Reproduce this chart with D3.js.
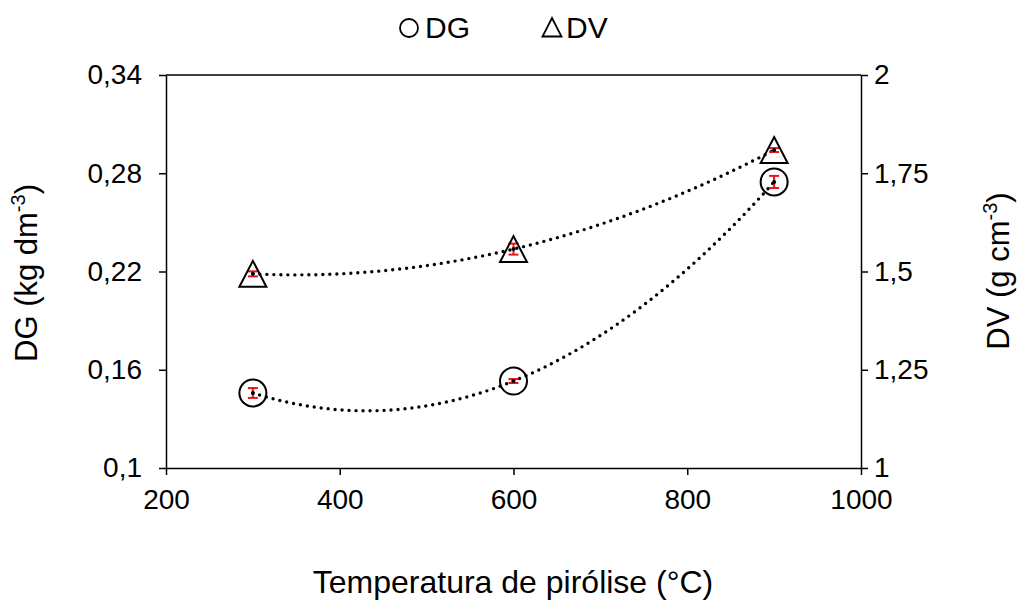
<!DOCTYPE html>
<html><head><meta charset="utf-8">
<script src="https://cdn.jsdelivr.net/npm/d3@7"></script>
<style>body{margin:0;background:#fff}svg{display:block}text{font-family:"Liberation Sans",Arial,sans-serif;fill:#000}</style>
</head><body>
<svg id="c" width="1019" height="600"></svg>
<script>
const temps = [300, 600, 900];
const dgValues = [0.1458, 0.1531, 0.2747];
const dgErrors = [0.003, 0.0012, 0.0037];
const dvValues = [1.494, 1.557, 1.809];
const dvErrors = [0.0064, 0.014, 0.005];
const xTicks = [200, 400, 600, 800, 1000];
const yLeftTicks = [0.1, 0.16, 0.22, 0.28, 0.34];
const yRightTicks = [1, 1.25, 1.5, 1.75, 2];
const fmt = d => String(d).replace('.', ',');

const svg = d3.select('#c');
const L = 166, R = 861, T = 75, B = 468;
const x = d3.scaleLinear().domain([200, 1000]).range([L, R]);
const yL = d3.scaleLinear().domain([0.1, 0.34]).range([B, T]);
const yR = d3.scaleLinear().domain([1, 2]).range([B, T]);
const TICK_FS = 28, TITLE_FS = 32, LEG_FS = 30;

svg.append('line').attr('x1', L).attr('x2', R).attr('y1', T).attr('y2', T).attr('stroke', '#000').attr('stroke-width', 1.5);

const ax = svg.append('g').attr('transform', `translate(0,${B})`)
  .call(d3.axisBottom(x).tickValues(xTicks).tickSize(7).tickSizeOuter(0).tickPadding(14).tickFormat(d => d));
const ayl = svg.append('g').attr('transform', `translate(${L},0)`)
  .call(d3.axisLeft(yL).tickValues(yLeftTicks).tickSize(7).tickSizeOuter(0).tickPadding(17).tickFormat(fmt));
const ayr = svg.append('g').attr('transform', `translate(${R},0)`)
  .call(d3.axisRight(yR).tickValues(yRightTicks).tickSize(7).tickSizeOuter(0).tickPadding(6).tickFormat(fmt));
[ax, ayl, ayr].forEach(g => {
  g.selectAll('path,line').attr('stroke', '#000').attr('stroke-width', 1.5);
  g.selectAll('text').attr('font-size', TICK_FS).attr('font-family', '"Liberation Sans",Arial,sans-serif');
});

function quad(xs, ys) {
  const [x0, x1, x2] = xs, [y0, y1, y2] = ys;
  return t => y0 * (t - x1) * (t - x2) / ((x0 - x1) * (x0 - x2)) +
              y1 * (t - x0) * (t - x2) / ((x1 - x0) * (x1 - x2)) +
              y2 * (t - x0) * (t - x1) / ((x2 - x0) * (x2 - x1));
}
const samples = d3.range(300, 900.1, 5);
function trend(vals, ys) {
  const f = quad(temps, vals);
  svg.append('path').datum(samples)
    .attr('d', d3.line().x(d => x(d)).y(d => ys(f(d))))
    .attr('fill', 'none').attr('stroke', '#000').attr('stroke-width', 3.4)
    .attr('stroke-linecap', 'round').attr('stroke-dasharray', '0 7');
}
trend(dgValues, yL);
trend(dvValues, yR);

function errbars(vals, errs, ys) {
  const g = svg.append('g').attr('stroke', '#e8141b').attr('stroke-width', 2);
  temps.forEach((t, i) => {
    const cx = x(t), a = ys(vals[i] - errs[i]), b = ys(vals[i] + errs[i]);
    g.append('line').attr('x1', cx).attr('x2', cx).attr('y1', a).attr('y2', b);
    g.append('line').attr('x1', cx - 5).attr('x2', cx + 5).attr('y1', a).attr('y2', a);
    g.append('line').attr('x1', cx - 5).attr('x2', cx + 5).attr('y1', b).attr('y2', b);
  });
}
errbars(dgValues, dgErrors, yL);
errbars(dvValues, dvErrors, yR);

temps.forEach((t, i) => {
  svg.append('circle').attr('cx', x(t)).attr('cy', yL(dgValues[i])).attr('r', 13.5)
    .attr('fill', 'none').attr('stroke', '#000').attr('stroke-width', 2);
  svg.append('circle').attr('cx', x(t)).attr('cy', yL(dgValues[i])).attr('r', 2).attr('fill', '#000');
  const cx = x(t), cy = yR(dvValues[i]);
  svg.append('path').attr('d', `M${cx},${cy - 13}L${cx + 13.5},${cy + 13}L${cx - 13.5},${cy + 13}Z`)
    .attr('fill', 'none').attr('stroke', '#000').attr('stroke-width', 2);
  svg.append('circle').attr('cx', cx).attr('cy', cy).attr('r', 2).attr('fill', '#000');
});

svg.append('circle').attr('cx', 409).attr('cy', 28).attr('r', 9).attr('fill', 'none').attr('stroke', '#000').attr('stroke-width', 1.8);
svg.append('text').attr('x', 425).attr('y', 38).attr('font-size', LEG_FS).text('DG');
svg.append('path').attr('d', 'M552,18L561.5,36.5L542.5,36.5Z').attr('fill', 'none').attr('stroke', '#000').attr('stroke-width', 1.8);
svg.append('text').attr('x', 566).attr('y', 38).attr('font-size', LEG_FS).text('DV');

svg.append('text').attr('x', 513).attr('y', 593).attr('text-anchor', 'middle').attr('font-size', TITLE_FS)
  .text('Temperatura de pirólise (°C)');
const lt = svg.append('text').attr('transform', `translate(37,273) rotate(-90)`).attr('text-anchor', 'middle').attr('font-size', 31);
lt.append('tspan').text('DG (kg dm');
lt.append('tspan').attr('font-size', 20).attr('dy', -12).text('-3');
lt.append('tspan').attr('dy', 12).text(')');
const rt = svg.append('text').attr('transform', `translate(1009,271) rotate(-90)`).attr('text-anchor', 'middle').attr('font-size', 31);
rt.append('tspan').text('DV (g cm');
rt.append('tspan').attr('font-size', 20).attr('dy', -12).text('-3');
rt.append('tspan').attr('dy', 12).text(')');
</script>
</body></html>
